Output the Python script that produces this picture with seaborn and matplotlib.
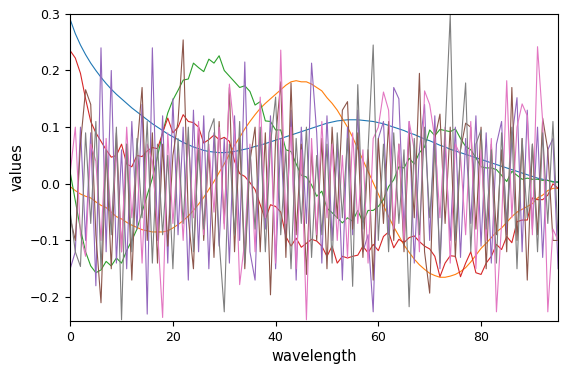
import numpy as np
import pandas as pd
import seaborn as sns
import matplotlib
matplotlib.use("Agg")
import matplotlib.pyplot as plt

# component curves (one value per wavelength 0..95)
blue = [0.29, 0.265, 0.245, 0.228, 0.213, 0.200, 0.188, 0.177, 0.167, 0.158,
        0.150, 0.142, 0.134, 0.127, 0.120, 0.113, 0.106, 0.100, 0.094, 0.088,
        0.083, 0.078, 0.073, 0.069, 0.065, 0.062, 0.059, 0.057, 0.056, 0.055,
        0.055, 0.056, 0.057, 0.059, 0.061, 0.063, 0.066, 0.068, 0.071, 0.074,
        0.077, 0.080, 0.083, 0.086, 0.089, 0.092, 0.095, 0.098, 0.101, 0.104,
        0.107, 0.109, 0.111, 0.112, 0.113, 0.113, 0.113, 0.112, 0.111, 0.110,
        0.108, 0.106, 0.103, 0.100, 0.097, 0.094, 0.090, 0.087, 0.083, 0.079,
        0.076, 0.072, 0.068, 0.065, 0.061, 0.058, 0.055, 0.052, 0.049, 0.046,
        0.043, 0.040, 0.037, 0.034, 0.031, 0.028, 0.025, 0.022, 0.019, 0.016,
        0.013, 0.010, 0.008, 0.006, 0.004, 0.003]

orange = [-0.005, -0.012, -0.018, -0.022, -0.025, -0.032, -0.038, -0.042, -0.050, -0.058,
          -0.062, -0.068, -0.073, -0.077, -0.081, -0.083, -0.085, -0.085, -0.085, -0.083,
          -0.078, -0.072, -0.065, -0.057, -0.047, -0.036, -0.024, -0.010, 0.004, 0.020,
          0.035, 0.052, 0.068, 0.082, 0.097, 0.110, 0.122, 0.133, 0.142, 0.150,
          0.158, 0.166, 0.174, 0.180, 0.182, 0.180, 0.180, 0.176, 0.170, 0.164,
          0.152, 0.142, 0.130, 0.115, 0.100, 0.082, 0.062, 0.042, 0.022, 0.002,
          -0.018, -0.038, -0.058, -0.076, -0.092, -0.108, -0.121, -0.133, -0.143, -0.151,
          -0.158, -0.162, -0.165, -0.165, -0.163, -0.160, -0.155, -0.148, -0.138, -0.126,
          -0.114, -0.105, -0.095, -0.085, -0.078, -0.068, -0.058, -0.050, -0.045, -0.040,
          -0.035, -0.025, -0.020, -0.012, -0.008, -0.008]

green = [0.02, -0.03, -0.08, -0.12, -0.145, -0.157, -0.152, -0.137, -0.145, -0.131,
         -0.140, -0.118, -0.100, -0.080, -0.050, -0.020, 0.010, 0.048, 0.090, 0.125,
         0.148, 0.165, 0.183, 0.185, 0.213, 0.205, 0.198, 0.220, 0.213, 0.226,
         0.200, 0.190, 0.180, 0.170, 0.173, 0.163, 0.139, 0.145, 0.111, 0.110,
         0.095, 0.095, 0.060, 0.057, 0.035, 0.015, 0.012, -0.002, -0.022, -0.013,
         -0.043, -0.051, -0.060, -0.069, -0.060, -0.066, -0.047, -0.068, -0.047, -0.047,
         -0.040, -0.028, -0.005, 0.007, 0.030, 0.028, 0.045, 0.035, 0.055, 0.065,
         0.095, 0.085, 0.096, 0.094, 0.092, 0.097, 0.080, 0.066, 0.060, 0.046,
         0.030, 0.028, 0.028, 0.025, 0.015, 0.004, 0.022, 0.015, 0.008, 0.010,
         0.008, 0.008, 0.006, 0.006, 0.003, 0.003]

red = [0.235, 0.222, 0.195, 0.15, 0.11, 0.09, 0.075, 0.06, 0.047, 0.05,
       0.07, 0.035, 0.03, 0.05, 0.048, 0.058, 0.064, 0.062, 0.09, 0.116,
       0.09, 0.1, 0.122, 0.11, 0.108, 0.1, 0.072, 0.078, 0.086, 0.078,
       0.082, 0.075, 0.04, 0.018, 0.013, 0.002, -0.01, -0.037, -0.063, -0.037,
       -0.04, -0.05, -0.093, -0.11, -0.096, -0.112, -0.105, -0.098, -0.101, -0.11,
       -0.128, -0.11, -0.14, -0.128, -0.131, -0.128, -0.126, -0.11, -0.122, -0.107,
       -0.118, -0.093, -0.085, -0.113, -0.098, -0.104, -0.095, -0.092, -0.102, -0.11,
       -0.115, -0.128, -0.164, -0.14, -0.127, -0.128, -0.164, -0.14, -0.12, -0.157,
       -0.16, -0.14, -0.128, -0.107, -0.116, -0.093, -0.104, -0.067, -0.064, -0.064,
       -0.025, -0.028, -0.028, -0.02, 0.0, -0.008]

purple = [-0.15, -0.12, 0.10, -0.10, 0.09, -0.18, 0.24, -0.12, 0.20, -0.14,
          0.06, -0.15, 0.11, -0.08, 0.14, -0.23, 0.24, -0.10, 0.12, -0.14,
          0.15, -0.09, 0.10, -0.17, 0.13, -0.12, 0.12, -0.15, 0.09, -0.11,
          0.08, -0.14, 0.12, -0.10, 0.215, -0.12, -0.17, 0.09, -0.08, 0.12,
          -0.15, 0.08, -0.11, 0.13, -0.17, 0.10, -0.07, 0.213, 0.09, -0.14,
          0.12, -0.10, 0.07, -0.17, 0.10, -0.09, 0.13, -0.12, -0.09, -0.226,
          0.08, 0.11, -0.09, 0.17, 0.15, -0.08, 0.11, -0.14, 0.06, 0.14,
          -0.10, 0.12, -0.15, 0.07, -0.10, 0.10, -0.13, 0.08, -0.07, 0.12,
          -0.11, 0.09, -0.14, 0.07, 0.11, -0.09, 0.08, 0.152, -0.12, 0.13,
          -0.08, 0.10, -0.13, 0.06, 0.08, -0.15]

brown = [-0.06, -0.10, 0.07, 0.166, 0.14, -0.09, -0.21, 0.06, -0.15, 0.09,
         -0.12, 0.07, -0.17, 0.06, 0.17, -0.10, 0.09, -0.14, 0.07, -0.11,
         0.05, 0.11, 0.254, -0.06, -0.15, 0.10, -0.10, 0.06, -0.13, 0.11,
         -0.07, 0.17, -0.12, 0.08, -0.15, 0.04, 0.10, -0.12, 0.09, -0.196,
         0.08, 0.18, -0.13, 0.178, -0.09, 0.07, -0.16, 0.06, -0.10, 0.08,
         -0.15, 0.10, -0.06, 0.13, 0.145, -0.08, 0.09, -0.13, 0.06, -0.17,
         0.08, -0.07, 0.11, -0.10, 0.07, -0.12, 0.09, -0.06, 0.195, -0.12,
         -0.193, 0.08, 0.123, -0.07, 0.10, -0.13, 0.06, 0.107, 0.10, -0.08,
         0.10, -0.15, 0.07, -0.09, 0.06, -0.12, 0.17, -0.10, 0.08, -0.17,
         0.07, -0.09, 0.116, 0.06, -0.10, -0.10]

pink = [0.02, 0.10, -0.09, -0.128, 0.07, 0.04, -0.10, 0.08, -0.07, 0.06,
        -0.12, 0.10, -0.06, 0.05, -0.14, 0.07, 0.04, -0.08, -0.236, 0.09,
        -0.07, 0.06, -0.10, 0.08, -0.06, 0.11, -0.09, 0.07, -0.05, 0.10,
        -0.08, 0.176, 0.09, -0.178, -0.10, 0.07, -0.12, 0.153, -0.06, 0.09,
        -0.14, 0.236, -0.07, 0.10, -0.15, 0.06, -0.24, 0.08, -0.09, 0.11,
        -0.06, 0.07, -0.10, 0.05, -0.13, 0.09, -0.07, 0.06, -0.14, 0.08,
        0.10, 0.162, 0.13, -0.08, 0.07, -0.10, 0.11, 0.06, -0.12, 0.164,
        0.14, 0.08, -0.06, 0.10, -0.14, 0.07, 0.05, -0.09, 0.11, -0.15,
        0.06, -0.10, 0.08, -0.226, -0.07, 0.182, -0.06, 0.10, 0.141, 0.12,
        -0.09, 0.242, 0.11, -0.226, -0.08, -0.10]

gray = [-0.05, -0.12, -0.146, 0.09, -0.07, 0.11, -0.15, 0.06, -0.09, 0.10,
        -0.24, 0.07, -0.12, 0.08, -0.06, 0.11, -0.14, 0.07, -0.09, 0.05,
        -0.15, 0.08, -0.07, 0.10, -0.12, 0.06, -0.08, 0.09, 0.115, -0.10,
        -0.226, 0.07, -0.09, 0.11, -0.14, 0.06, -0.08, 0.10, -0.12, 0.07,
        0.153, -0.09, 0.06, -0.15, 0.08, -0.07, 0.10, -0.13, 0.05, -0.09,
        0.07, -0.14, 0.09, -0.06, 0.08, -0.181, 0.175, -0.08, 0.06, 0.245,
        -0.10, 0.07, -0.12, 0.09, -0.07, 0.06, -0.217, 0.08, -0.09, 0.10,
        -0.06, 0.07, -0.14, 0.09, 0.298, -0.10, 0.06, 0.178, -0.12, 0.07,
        0.095, -0.08, 0.06, -0.14, 0.09, -0.07, 0.10, -0.15, 0.08, -0.06,
        0.07, -0.12, 0.09, -0.07, 0.11, -0.10]

series = [blue, orange, green, red, purple, brown, pink, gray]
for s in series:
    assert len(s) == 96, len(s)

wavelength = np.arange(96)
colors = sns.color_palette("tab10", 8)

fig, ax = plt.subplots(figsize=(5.66, 3.74), dpi=100)
fig.subplots_adjust(left=0.124, right=0.986, top=0.963, bottom=0.142)

for s, c in zip(series, colors):
    sns.lineplot(x=wavelength, y=s, color=c, linewidth=0.8, ax=ax)

ax.set_xlim(0, 95)
ax.set_ylim(-0.242, 0.3)
ax.set_xlabel("wavelength", fontsize=10.5)
ax.set_ylabel("values", fontsize=10.5)
ax.tick_params(labelsize=9)

fig.savefig("out.png", dpi=100)
